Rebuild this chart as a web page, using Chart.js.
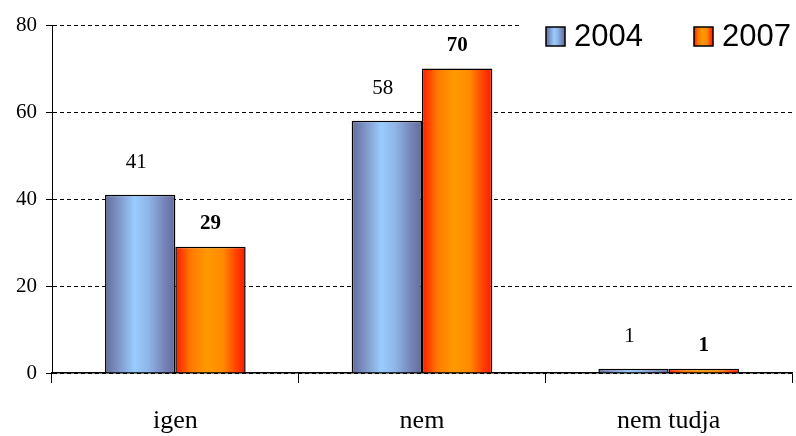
<!DOCTYPE html>
<html>
<head>
<meta charset="utf-8">
<script src="https://cdn.jsdelivr.net/npm/chart.js@4"></script>
<style>
  html, body { margin: 0; padding: 0; background: #fff; }
  #wrap { width: 796px; height: 436px; position: relative; }
</style>
</head>
<body>
<div id="wrap"><canvas id="c" width="796" height="436"></canvas></div>
<script>
// Answers by year
const categories = ['igen', 'nem', 'nem tudja'];
const seriesNames = ['2004', '2007'];
const values2004 = [41, 58, 1];
const values2007 = [29, 70, 1];
const yTicks = [0, 20, 40, 60, 80];

// Horizontal "cylinder" shading for each series
const shades = [
  [[0, '#636b9b'], [0.2, '#7f97c8'], [0.42, '#99ccff'], [0.62, '#8fb5e6'], [0.85, '#7483b6'], [1, '#636b9b']],
  [[0, '#ff1a00'], [0.22, '#ff7a00'], [0.45, '#ff9900'], [0.68, '#ff8a00'], [0.88, '#ff3c00'], [1, '#ff1a00']]
];

function shadeFill(ctx, x0, x1, stops) {
  const g = ctx.createLinearGradient(x0, 0, x1, 0);
  stops.forEach(s => g.addColorStop(s[0], s[1]));
  return g;
}

const serif = "'Liberation Serif', 'Times New Roman', serif";

// each bar gets its own gradient spanning its own width
const barShading = {
  id: 'barShading',
  beforeDatasetsDraw(chart) {
    const ctx = chart.ctx;
    chart.data.datasets.forEach((ds, i) => {
      chart.getDatasetMeta(i).data.forEach(bar => {
        const x0 = bar.x - bar.width / 2;
        const x1 = bar.x + bar.width / 2;
        bar.options = Object.assign({}, bar.options, {
          backgroundColor: shadeFill(ctx, x0, x1, shades[i])
        });
      });
    });
  }
};

const valueLabels = {
  id: 'valueLabels',
  afterDatasetsDraw(chart) {
    const ctx = chart.ctx;
    ctx.save();
    ctx.fillStyle = '#000';
    ctx.textAlign = 'center';
    ctx.textBaseline = 'middle';
    chart.data.datasets.forEach((ds, i) => {
      const bold = i === 1;
      ctx.font = (bold ? 'bold ' : '') + '21px ' + serif;
      chart.getDatasetMeta(i).data.forEach((bar, j) => {
        const lift = bold ? 23 : 32;
        const dx = bold ? 0 : -4;
        ctx.fillText(String(ds.data[j]), bar.x + dx, bar.y - lift);
      });
    });
    ctx.restore();
  }
};

const cornerLegend = {
  id: 'cornerLegend',
  afterDraw(chart) {
    const ctx = chart.ctx;
    ctx.save();
    ctx.fillStyle = '#fff';
    ctx.fillRect(521, 12, 275, 44);
    const items = [{ x: 546 }, { x: 694 }];
    ctx.font = "31px 'Liberation Sans', Arial, sans-serif";
    ctx.textBaseline = 'middle';
    ctx.textAlign = 'left';
    items.forEach((it, i) => {
      const bx = it.x, by = 27, bw = 19, bh = 19;
      ctx.fillStyle = shadeFill(ctx, bx, bx + bw, shades[i]);
      ctx.fillRect(bx, by, bw, bh);
      ctx.lineWidth = 1.5;
      ctx.strokeStyle = '#000';
      ctx.strokeRect(bx, by, bw, bh);
      ctx.fillStyle = '#000';
      ctx.fillText(chart.data.datasets[i].label, bx + 28, by + bh / 2 + 1);
    });
    ctx.restore();
  }
};

new Chart(document.getElementById('c'), {
  type: 'bar',
  data: {
    labels: categories,
    datasets: [
      { label: seriesNames[0], data: values2004, borderColor: '#000', borderWidth: 1.5 },
      { label: seriesNames[1], data: values2007, borderColor: '#000', borderWidth: 1.5 }
    ]
  },
  options: {
    responsive: false,
    animation: false,
    devicePixelRatio: 1,
    categoryPercentage: 0.57,
    barPercentage: 1,
    layout: { padding: { top: 25, right: 4, left: 0, bottom: 0 } },
    plugins: { legend: { display: false }, tooltip: { enabled: false } },
    scales: {
      x: {
        grid: { drawOnChartArea: false, drawTicks: true, tickLength: 10, offset: true, color: '#000', lineWidth: 1 },
        border: { color: '#000', width: 1.5 },
        ticks: { color: '#000', font: { family: serif, size: 26 }, padding: 23 },
        afterFit(scale) { scale.height = 63; }
      },
      y: {
        min: 0,
        max: 80,
        afterBuildTicks(scale) { scale.ticks = yTicks.map(v => ({ value: v })); },
        grid: { color: '#000', lineWidth: 1, tickLength: 6, tickColor: '#000' },
        border: { color: '#000', width: 1, dash: [4, 3] },
        ticks: { color: '#000', font: { family: serif, size: 21 }, padding: 9 },
        afterFit(scale) { scale.width = 52; }
      }
    }
  },
  plugins: [barShading, valueLabels, cornerLegend]
});
</script>
</body>
</html>
